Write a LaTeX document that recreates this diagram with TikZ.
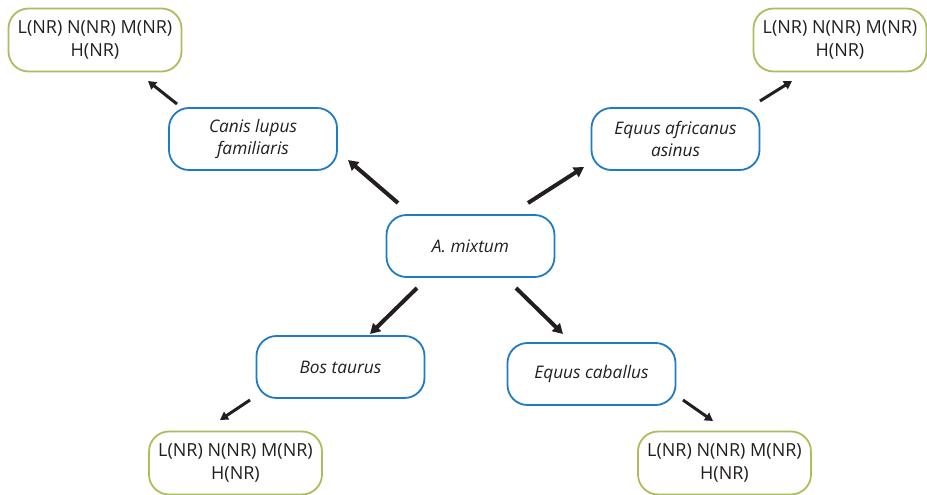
\documentclass[tikz,border=0pt]{standalone}
\usepackage{fontspec}
\setmainfont{Open Sans}
\usetikzlibrary{arrows.meta}
\definecolor{bluebox}{HTML}{1F7BC4}
\definecolor{greenbox}{HTML}{A9BF5E}
\definecolor{txt}{HTML}{231F20}
\begin{document}
\begin{tikzpicture}[x=1pt,y=-1pt,
  base/.style={rounded corners=20pt,line width=1.8pt,align=center,inner sep=0pt,
    text=txt,font=\fontsize{18}{22.5}\selectfont},
  species/.style={base,draw=bluebox,minimum width=168pt,minimum height=62pt,font=\fontsize{17.3}{22.5}\selectfont\itshape},
  result/.style={base,draw=greenbox,minimum width=173pt,minimum height=63pt},
  bigarrow/.style={line width=4pt,txt,-{Triangle[length=10pt,width=11pt]}},
  smallarrow/.style={line width=3pt,txt,-{Triangle[length=8pt,width=9pt]}}]
\useasboundingbox (0,0) rectangle (927,495);
\node[result] (gtl) at (95,40) {L(NR) N(NR) M(NR)\\H(NR)};
\node[result] (gtr) at (840,40) {L(NR) N(NR) M(NR)\\H(NR)};
\node[result] (gbl) at (235.5,463) {L(NR) N(NR) M(NR)\\H(NR)};
\node[result] (gbr) at (724.5,463) {L(NR) N(NR) M(NR)\\H(NR)};
\node[species] (canis) at (253,139) {Canis lupus\\familiaris};
\node[species] (asinus) at (675.5,139) {Equus africanus\\asinus};
\node[species] (amix) at (470.5,246) {A. mixtum};
\node[species] (bos) at (340.5,367) {Bos taurus};
\node[species] (cab) at (591.5,374) {Equus caballus};
% arrow end points
\coordinate (a1s) at (398,203); \coordinate (a1e) at (348,160);
\coordinate (a2s) at (528,203); \coordinate (a2e) at (584,167);
\coordinate (a3s) at (417,288); \coordinate (a3e) at (370,334);
\coordinate (a4s) at (516,288); \coordinate (a4e) at (563,334);
\coordinate (a5s) at (177,104); \coordinate (a5e) at (148,81);
\coordinate (a6s) at (760,101); \coordinate (a6e) at (792,81);
\coordinate (a7s) at (250,400); \coordinate (a7e) at (220,420);
\coordinate (a8s) at (683,400); \coordinate (a8e) at (713,421);
\draw[bigarrow] (a1s) -- (a1e);
\draw[bigarrow] (a2s) -- (a2e);
\draw[bigarrow] (a3s) -- (a3e);
\draw[bigarrow] (a4s) -- (a4e);
\draw[smallarrow] (a5s) -- (a5e);
\draw[smallarrow] (a6s) -- (a6e);
\draw[smallarrow] (a7s) -- (a7e);
\draw[smallarrow] (a8s) -- (a8e);
\end{tikzpicture}
\end{document}
